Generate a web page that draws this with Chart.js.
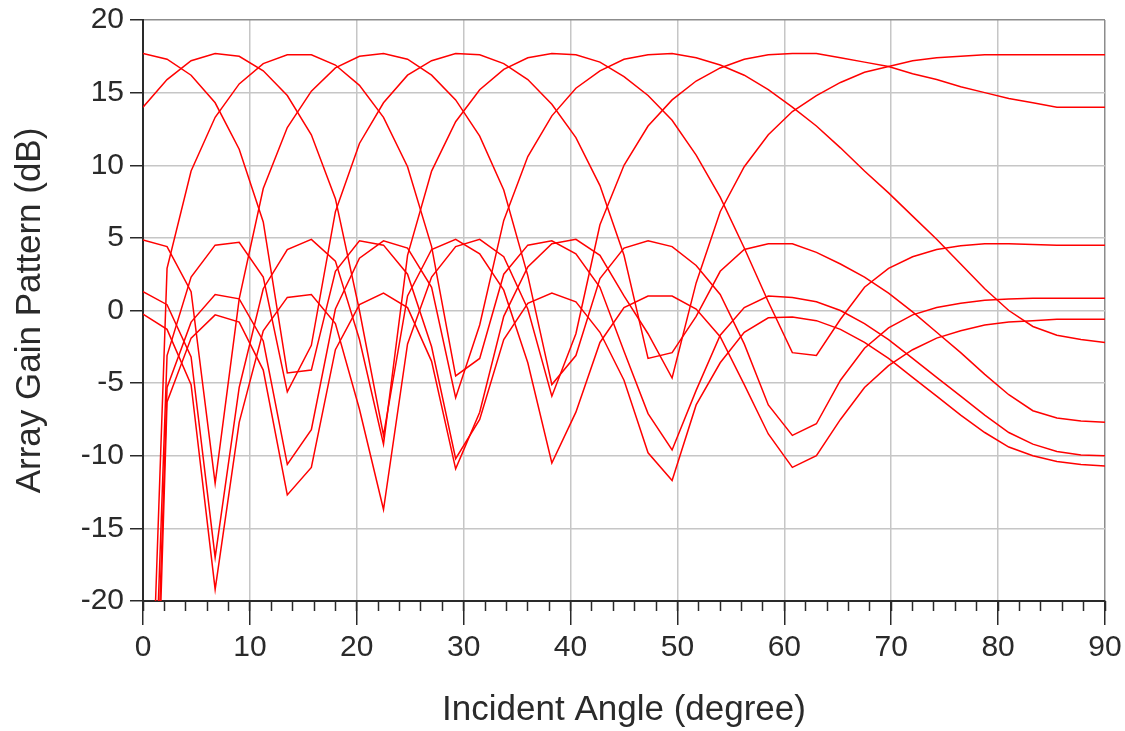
<!DOCTYPE html>
<html>
<head>
<meta charset="utf-8">
<title>Array Gain Pattern</title>
<script src="https://cdn.jsdelivr.net/npm/chart.js@4.4.0/dist/chart.umd.min.js"></script>
<style>
    html, body { margin: 0; padding: 0; background: #ffffff; }
    #chartBox { width: 1125px; height: 731px; }
</style>
</head>
<body>
<div id="chartBox"><canvas id="gainChart" width="1125" height="731"></canvas></div>
<script>
/* ============================================
   ARRAY GAIN PATTERN - 9 BEAMS, 0..90 DEG
   ============================================ */

// Sampled incident angles (degree), one every 2.25 deg
const ANGLES = [0, 2.25, 4.5, 6.75, 9, 11.25, 13.5, 15.75, 18, 20.25, 22.5, 24.75, 27, 29.25, 31.5, 33.75,
    36, 38.25, 40.5, 42.75, 45, 47.25, 49.5, 51.75, 54, 56.25, 58.5, 60.75, 63, 65.25, 67.5, 69.75,
    72, 74.25, 76.5, 78.75, 81, 83.25, 85.5, 87.75, 90];

// Gain (dB) of each beam at the angles above
const beam0 = [17.7, 17.3, 16.2, 14.3, 11.1, 6.1, -4.3, -4.1, 2.7, 4.8, 4.5, 2.5, -2.5, -10.2, -7.5, -2.0,
    0.5, 1.2, 0.6, -1.5, -4.8, -9.8, -11.7, -6.5, -3.6, -1.5, -0.5, -0.45, -0.7, -1.3, -2.2, -3.3,
    -4.6, -5.9, -7.2, -8.4, -9.4, -10.0, -10.4, -10.6, -10.7];
const beam1 = [14.0, 15.9, 17.2, 17.7, 17.5, 16.5, 14.8, 12.1, 7.7, 0.0, -8.6, 1.0, 4.2, 4.9, 3.9, 1.4,
    -3.6, -10.5, -7.0, -2.2, 0.2, 1.0, 1.0, 0.1, -1.8, -5.1, -8.5, -10.8, -10.0, -7.5, -5.3, -3.8,
    -2.7, -1.9, -1.4, -1.0, -0.8, -0.7, -0.6, -0.6, -0.6];
const beam2 = [-45, 2.9, 9.6, 13.3, 15.6, 17.0, 17.6, 17.6, 16.9, 15.5, 13.3, 9.9, 4.4, -4.5, -3.3, 2.5,
    4.5, 4.8, 3.9, 1.6, -2.8, -7.1, -9.6, -5.5, -1.7, 0.2, 1.0, 0.9, 0.6, 0.0, -0.9, -2.0,
    -3.3, -4.6, -5.9, -7.2, -8.4, -9.2, -9.7, -9.95, -10.0];
const beam3 = [4.85, 4.4, 1.3, -11.9, 0.8, 8.4, 12.6, 15.1, 16.7, 17.5, 17.7, 17.3, 16.2, 14.5, 12.0, 8.3,
    2.4, -5.1, -3.1, 2.2, 4.3, 4.8, 4.4, 3.1, 1.1, -2.3, -6.5, -8.6, -7.8, -4.8, -2.6, -1.2,
    -0.3, 0.2, 0.5, 0.7, 0.8, 0.85, 0.85, 0.85, 0.85];
const beam4 = [-50, -3.1, 2.3, 4.5, 4.7, 2.3, -5.6, -2.4, 6.8, 11.5, 14.3, 16.2, 17.2, 17.7, 17.6, 17.0,
    15.9, 14.2, 11.9, 8.6, 3.8, -3.3, -2.9, -0.4, 2.7, 4.2, 4.6, 4.6, 4.0, 3.2, 2.3, 1.2,
    -0.1, -1.5, -2.9, -4.4, -5.8, -6.9, -7.4, -7.6, -7.7];
const beam5 = [1.3, 0.4, -3.2, -17.0, -5.3, 1.5, 4.2, 4.9, 3.4, -2.0, -9.2, 3.8, 9.6, 13.0, 15.2, 16.6,
    17.4, 17.7, 17.6, 17.1, 16.1, 14.8, 13.1, 10.7, 7.8, 4.3, 0.6, -2.9, -3.1, -0.6, 1.6, 2.9,
    3.7, 4.2, 4.45, 4.6, 4.6, 4.55, 4.5, 4.5, 4.5];
const beam6 = [-55, -5.3, -0.8, 1.1, 0.8, -2.1, -10.6, -8.2, 0.1, 3.6, 4.8, 4.3, 1.6, -6.0, -1.0, 6.2,
    10.6, 13.4, 15.3, 16.5, 17.3, 17.6, 17.7, 17.4, 16.9, 16.2, 15.2, 14.0, 12.7, 11.2, 9.6, 8.1,
    6.5, 4.9, 3.2, 1.5, 0.0, -1.1, -1.7, -2.0, -2.2];
const beam7 = [-0.25, -1.3, -5.1, -19.2, -7.7, -1.4, 0.9, 1.1, -0.9, -6.8, -13.7, -2.3, 2.3, 4.4, 4.9, 3.7,
    0.1, -5.9, -1.6, 5.9, 10.0, 12.7, 14.5, 15.8, 16.7, 17.3, 17.6, 17.7, 17.7, 17.4, 17.1, 16.8,
    16.3, 15.9, 15.4, 15.0, 14.6, 14.3, 14.0, 14.0, 14.0];
const beam8 = [-60, -6.3, -1.9, -0.3, -0.8, -4.1, -12.7, -10.8, -2.7, 0.4, 1.2, 0.2, -3.5, -10.9, -7.0, -0.4,
    3.0, 4.6, 4.9, 3.8, 1.0, -1.6, -4.65, 1.9, 6.8, 9.9, 12.1, 13.7, 14.8, 15.7, 16.4, 16.8,
    17.2, 17.4, 17.5, 17.6, 17.6, 17.6, 17.6, 17.6, 17.6];

const BEAMS = [beam0, beam1, beam2, beam3, beam4, beam5, beam6, beam7, beam8];

// Axis settings
const X_MIN = 0, X_MAX = 90, X_MAJOR = 10, X_MINOR = 2;
const Y_MIN = -20, Y_MAX = 20, Y_STEP = 5;

const FONT_FAMILY = "'Liberation Sans', Arial, Helvetica, sans-serif";
const colors = {
    trace: '#ff0000',
    grid: '#c6c6c6',
    frame: '#8c8c8c',
    axis: '#2a2a2a',
    text: '#2a2a2a'
};

document.addEventListener('DOMContentLoaded', function() {
    createGainChart();
});

// keep the plot edges fixed regardless of label overhang
function fixSidePadding(scale) {
    scale.paddingLeft = 0;
    scale.paddingRight = 0;
}

function createGainChart() {
    const ctx = document.getElementById('gainChart').getContext('2d');

    const datasets = BEAMS.map((gains, i) => ({
        label: 'Beam ' + (i + 1),
        data: ANGLES.map((a, j) => ({ x: a, y: gains[j] })),
        borderColor: colors.trace,
        borderWidth: 1.5,
        pointRadius: 0,
        tension: 0,
        fill: false,
        xAxisID: 'x',
        yAxisID: 'y'
    }));

    new Chart(ctx, {
        type: 'line',
        data: { datasets: datasets },
        options: {
            responsive: false,
            devicePixelRatio: 1,
            animation: false,
            layout: {
                padding: { top: 20, right: 20, bottom: 0, left: 0 }
            },
            plugins: {
                legend: { display: false },
                tooltip: { enabled: false }
            },
            scales: {
                // minor tick marks only, zero height so it sits on the axis line
                xMinor: {
                    type: 'linear',
                    position: 'bottom',
                    weight: 0,
                    min: X_MIN,
                    max: X_MAX,
                    ticks: { display: false, stepSize: X_MINOR },
                    grid: {
                        drawOnChartArea: false,
                        drawTicks: true,
                        tickLength: 10,
                        tickColor: colors.axis,
                        tickWidth: 1.5
                    },
                    border: { display: false },
                    afterFit: (scale) => {
                        scale.height = 0;
                        fixSidePadding(scale);
                    }
                },
                x: {
                    type: 'linear',
                    position: 'bottom',
                    weight: 1,
                    min: X_MIN,
                    max: X_MAX,
                    ticks: {
                        stepSize: X_MAJOR,
                        color: colors.text,
                        font: { family: FONT_FAMILY, size: 30 },
                        padding: 5,
                        maxRotation: 0,
                        autoSkip: false
                    },
                    grid: {
                        color: (c) => (c.tick && c.tick.value === X_MAX) ? colors.frame : colors.grid,
                        lineWidth: 1.5,
                        tickLength: 24,
                        tickColor: colors.axis,
                        tickWidth: 1.5
                    },
                    border: { color: colors.axis, width: 2 },
                    title: {
                        display: true,
                        text: 'Incident Angle (degree)',
                        color: colors.text,
                        font: { family: FONT_FAMILY, size: 35 },
                        padding: { top: 0, bottom: 0 }
                    },
                    afterFit: (scale) => {
                        scale.height = 130;
                        fixSidePadding(scale);
                    }
                },
                y: {
                    type: 'linear',
                    position: 'left',
                    min: Y_MIN,
                    max: Y_MAX,
                    ticks: {
                        stepSize: Y_STEP,
                        color: colors.text,
                        font: { family: FONT_FAMILY, size: 30 },
                        padding: 6
                    },
                    grid: {
                        color: (c) => (c.tick && c.tick.value === Y_MAX) ? colors.frame : colors.grid,
                        lineWidth: 1.5,
                        tickLength: 13,
                        tickColor: colors.axis,
                        tickWidth: 1.5
                    },
                    border: { color: colors.axis, width: 2 },
                    title: {
                        display: true,
                        text: 'Array Gain Pattern (dB)',
                        color: colors.text,
                        font: { family: FONT_FAMILY, size: 35 },
                        padding: { top: 9, bottom: 0 }
                    },
                    // fixed axis width; let the plot reach the top padding
                    afterFit: (scale) => {
                        scale.width = 143;
                        scale.paddingTop = 0;
                        scale.paddingBottom = 0;
                    }
                }
            }
        }
    });
}
</script>
</body>
</html>
